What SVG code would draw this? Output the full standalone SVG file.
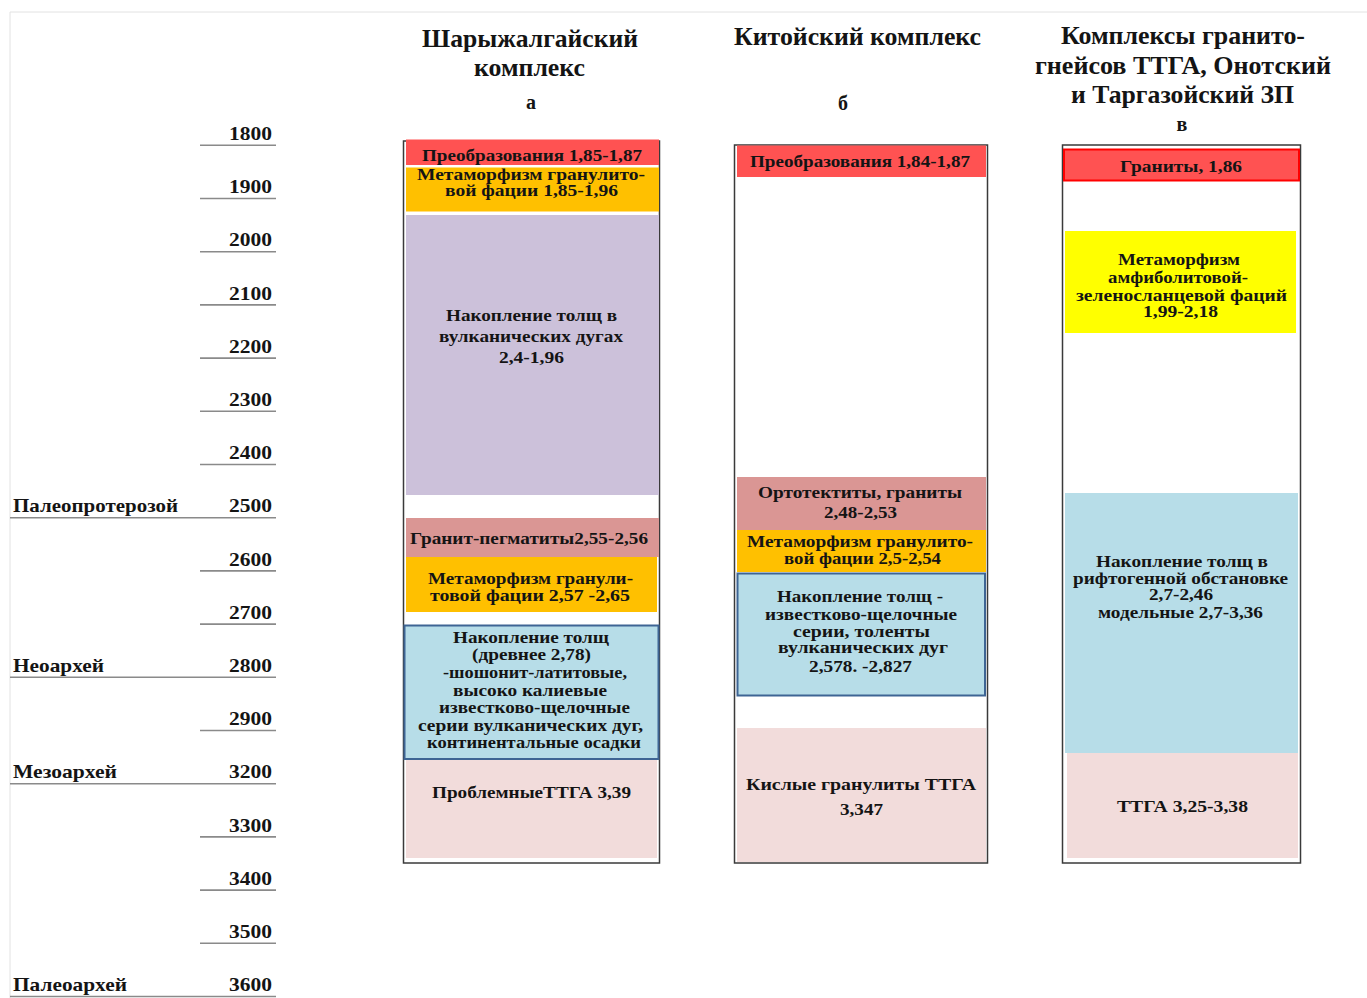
<svg xmlns="http://www.w3.org/2000/svg" width="1367" height="998" viewBox="0 0 1367 998">
<style>
text{font-family:"Liberation Serif","Times New Roman",serif;font-weight:bold;fill:#141414;}
.h{font-size:26px;text-anchor:middle;}
.b{font-size:17px;text-anchor:middle;}
.s{font-size:16px;}
.n{font-size:19px;text-anchor:end;}
.p{font-size:19px;text-anchor:start;}
.frame{fill:none;stroke:#3a3a3a;stroke-width:1.5;}
.tick{stroke:#8a8a8a;stroke-width:1.6;}
.red{fill:#FF5252;}
.org{fill:#FFC000;}
.lav{fill:#CCC1DA;}
.pk{fill:#DA9694;}
.blu{fill:#B7DDE8;}
.bb{stroke:#3E6594;stroke-width:2;}
.lp{fill:#F2DCDB;}
.yel{fill:#FFFF00;}
</style>
<rect width="1367" height="998" fill="#fff"/>
<path d="M10 998V12H1367" fill="none" stroke="#e2e2e2" stroke-width="1"/>

<g id="axis">
<line class="tick" x1="200" y1="145.3" x2="276" y2="145.3"/>
<line class="tick" x1="200" y1="198.5" x2="276" y2="198.5"/>
<line class="tick" x1="200" y1="251.7" x2="276" y2="251.7"/>
<line class="tick" x1="200" y1="304.9" x2="276" y2="304.9"/>
<line class="tick" x1="200" y1="358.1" x2="276" y2="358.1"/>
<line class="tick" x1="200" y1="411.3" x2="276" y2="411.3"/>
<line class="tick" x1="200" y1="464.5" x2="276" y2="464.5"/>
<line class="tick" x1="10" y1="517.7" x2="276" y2="517.7"/>
<line class="tick" x1="200" y1="570.9" x2="276" y2="570.9"/>
<line class="tick" x1="200" y1="624.1" x2="276" y2="624.1"/>
<line class="tick" x1="10" y1="677.3" x2="276" y2="677.3"/>
<line class="tick" x1="200" y1="730.5" x2="276" y2="730.5"/>
<line class="tick" x1="10" y1="783.7" x2="276" y2="783.7"/>
<line class="tick" x1="200" y1="836.9" x2="276" y2="836.9"/>
<line class="tick" x1="200" y1="890.1" x2="276" y2="890.1"/>
<line class="tick" x1="200" y1="943.3" x2="276" y2="943.3"/>
<line class="tick" x1="10" y1="996.5" x2="276" y2="996.5"/>
<text class="n" x="272" y="140" textLength="43" lengthAdjust="spacingAndGlyphs">1800</text>
<text class="n" x="272" y="193.2" textLength="43" lengthAdjust="spacingAndGlyphs">1900</text>
<text class="n" x="272" y="246.4" textLength="43" lengthAdjust="spacingAndGlyphs">2000</text>
<text class="n" x="272" y="299.6" textLength="43" lengthAdjust="spacingAndGlyphs">2100</text>
<text class="n" x="272" y="352.8" textLength="43" lengthAdjust="spacingAndGlyphs">2200</text>
<text class="n" x="272" y="406" textLength="43" lengthAdjust="spacingAndGlyphs">2300</text>
<text class="n" x="272" y="459.2" textLength="43" lengthAdjust="spacingAndGlyphs">2400</text>
<text class="n" x="272" y="512.4" textLength="43" lengthAdjust="spacingAndGlyphs">2500</text>
<text class="n" x="272" y="565.6" textLength="43" lengthAdjust="spacingAndGlyphs">2600</text>
<text class="n" x="272" y="618.8" textLength="43" lengthAdjust="spacingAndGlyphs">2700</text>
<text class="n" x="272" y="672" textLength="43" lengthAdjust="spacingAndGlyphs">2800</text>
<text class="n" x="272" y="725.2" textLength="43" lengthAdjust="spacingAndGlyphs">2900</text>
<text class="n" x="272" y="778.4" textLength="43" lengthAdjust="spacingAndGlyphs">3200</text>
<text class="n" x="272" y="831.6" textLength="43" lengthAdjust="spacingAndGlyphs">3300</text>
<text class="n" x="272" y="884.8" textLength="43" lengthAdjust="spacingAndGlyphs">3400</text>
<text class="n" x="272" y="938" textLength="43" lengthAdjust="spacingAndGlyphs">3500</text>
<text class="n" x="272" y="991.2" textLength="43" lengthAdjust="spacingAndGlyphs">3600</text>
<text class="p" x="13" y="512.4" textLength="165" lengthAdjust="spacingAndGlyphs">Палеопротерозой</text>
<text class="p" x="13" y="672" textLength="91" lengthAdjust="spacingAndGlyphs">Неоархей</text>
<text class="p" x="13" y="778.4" textLength="104" lengthAdjust="spacingAndGlyphs">Мезоархей</text>
<text class="p" x="13" y="991.2" textLength="114" lengthAdjust="spacingAndGlyphs">Палеоархей</text>
</g>

<g id="headers">
<text class="h" x="530" y="47" textLength="216" lengthAdjust="spacingAndGlyphs">Шарыжалгайский</text>
<text class="h" x="529.5" y="76" textLength="111" lengthAdjust="spacingAndGlyphs">комплекс</text>
<text class="h" x="531" y="109" style="font-size:20px">а</text>
<text class="h" x="857.5" y="45" textLength="247" lengthAdjust="spacingAndGlyphs">Китойский комплекс</text>
<text class="h" x="843" y="110" style="font-size:20px">б</text>
<text class="h" x="1183" y="44" textLength="244" lengthAdjust="spacingAndGlyphs">Комплексы гранито-</text>
<text class="h" x="1183" y="74" textLength="296" lengthAdjust="spacingAndGlyphs">гнейсов ТТГА, Онотский</text>
<text class="h" x="1182.5" y="103" textLength="223" lengthAdjust="spacingAndGlyphs">и Таргазойский ЗП</text>
<text class="h" x="1182" y="131" style="font-size:20px">в</text>
</g>

<g id="col-a">
<rect class="frame" x="403.5" y="141" width="256" height="722"/>
<g id="a1"><rect class="red" x="406" y="139.5" width="253" height="25.5"/>
<text class="b" x="532" y="160.5" textLength="220" lengthAdjust="spacingAndGlyphs">Преобразования 1,85-1,87</text></g>
<g id="a2"><rect class="org" x="406" y="167.5" width="253" height="44"/>
<text class="b s" x="531" y="180" textLength="228" lengthAdjust="spacingAndGlyphs">Метаморфизм  гранулито-</text>
<text class="b s" x="531.5" y="196" textLength="173" lengthAdjust="spacingAndGlyphs">вой фации  1,85-1,96</text></g>
<g id="a3"><rect class="lav" x="406" y="215" width="253" height="280"/>
<text class="b" x="531.5" y="321" textLength="171" lengthAdjust="spacingAndGlyphs">Накопление толщ в</text>
<text class="b" x="531" y="342" textLength="184" lengthAdjust="spacingAndGlyphs">вулканических  дугах</text>
<text class="b" x="531.5" y="363" textLength="65" lengthAdjust="spacingAndGlyphs">2,4-1,96</text></g>
<g id="a4"><rect class="pk" x="406" y="518" width="253" height="39"/>
<text class="b" x="529" y="544" textLength="238" lengthAdjust="spacingAndGlyphs">Гранит-пегматиты2,55-2,56</text></g>
<g id="a5"><rect class="org" x="406" y="557" width="251" height="55"/>
<text class="b s" x="530.5" y="584" textLength="205" lengthAdjust="spacingAndGlyphs">Метаморфизм гранули-</text>
<text class="b s" x="530" y="600.5" textLength="200" lengthAdjust="spacingAndGlyphs">товой фации  2,57 -2,65</text></g>
<g id="a6"><rect class="blu bb" x="404.5" y="625.5" width="254" height="133.5"/>
<text class="b s" x="531" y="643" textLength="156" lengthAdjust="spacingAndGlyphs">Накопление толщ</text>
<text class="b s" x="531.5" y="660" textLength="119" lengthAdjust="spacingAndGlyphs">(древнее 2,78)</text>
<text class="b s" x="535" y="678" textLength="184" lengthAdjust="spacingAndGlyphs">-шошонит-латитовые,</text>
<text class="b s" x="530" y="695.5" textLength="154" lengthAdjust="spacingAndGlyphs">высоко калиевые</text>
<text class="b s" x="534.5" y="713" textLength="191" lengthAdjust="spacingAndGlyphs">известково-щелочные</text>
<text class="b s" x="530.5" y="730.5" textLength="225" lengthAdjust="spacingAndGlyphs">серии вулканических  дуг,</text>
<text class="b s" x="534" y="748" textLength="214" lengthAdjust="spacingAndGlyphs">континентальные  осадки</text></g>
<g id="a7"><rect class="lp" x="406" y="760" width="251" height="98"/>
<text class="b" x="531.5" y="798" textLength="199" lengthAdjust="spacingAndGlyphs">ПроблемныеТТГА 3,39</text></g>
</g>

<g id="col-b">
<rect class="frame" x="734.5" y="145" width="253" height="718"/>
<g id="b1"><rect class="red" x="737" y="145.5" width="249" height="31.5"/>
<text class="b" x="860" y="166.5" textLength="220" lengthAdjust="spacingAndGlyphs">Преобразования 1,84-1,87</text></g>
<g id="b2"><rect class="pk" x="737" y="477" width="249" height="53"/>
<text class="b" x="860" y="498" textLength="204" lengthAdjust="spacingAndGlyphs">Ортотектиты, граниты</text>
<text class="b" x="860.5" y="518" textLength="73" lengthAdjust="spacingAndGlyphs">2,48-2,53</text></g>
<g id="b3"><rect class="org" x="737" y="530" width="249" height="42"/>
<text class="b s" x="860" y="546.5" textLength="226" lengthAdjust="spacingAndGlyphs">Метаморфизм гранулито-</text>
<text class="b s" x="862.5" y="564" textLength="157" lengthAdjust="spacingAndGlyphs">вой фации 2,5-2,54</text></g>
<g id="b4"><rect class="blu bb" x="737.5" y="573.5" width="247.5" height="122"/>
<text class="b s" x="860" y="601.5" textLength="166" lengthAdjust="spacingAndGlyphs">Накопление толщ -</text>
<text class="b s" x="861" y="620" textLength="192" lengthAdjust="spacingAndGlyphs">известково-щелочные</text>
<text class="b s" x="861.5" y="636.5" textLength="137" lengthAdjust="spacingAndGlyphs">серии, толенты</text>
<text class="b s" x="863" y="653" textLength="170" lengthAdjust="spacingAndGlyphs">вулканических  дуг</text>
<text class="b s" x="860.5" y="671.5" textLength="103" lengthAdjust="spacingAndGlyphs">2,578. -2,827</text></g>
<g id="b5"><rect class="lp" x="737" y="728" width="249" height="134"/>
<text class="b" x="861" y="790" textLength="230" lengthAdjust="spacingAndGlyphs">Кислые гранулиты  ТТГА</text>
<text class="b" x="861.5" y="815" textLength="43" lengthAdjust="spacingAndGlyphs">3,347</text></g>
</g>

<g id="col-c">
<rect class="frame" x="1062.5" y="145" width="238" height="718"/>
<g id="c1"><rect class="red" x="1064" y="149.5" width="235" height="31" stroke="#FF0000" stroke-width="2"/>
<text class="b" x="1181" y="171.5" textLength="122" lengthAdjust="spacingAndGlyphs">Граниты, 1,86</text></g>
<g id="c2"><rect class="yel" x="1065" y="231" width="231" height="102"/>
<text class="b s" x="1179" y="265" textLength="122" lengthAdjust="spacingAndGlyphs">Метаморфизм</text>
<text class="b s" x="1178" y="282.5" textLength="140" lengthAdjust="spacingAndGlyphs">амфиболитовой-</text>
<text class="b s" x="1181.5" y="300.5" textLength="211" lengthAdjust="spacingAndGlyphs">зеленосланцевой  фаций</text>
<text class="b s" x="1180.5" y="316.5" textLength="75" lengthAdjust="spacingAndGlyphs">1,99-2,18</text></g>
<g id="c3"><rect class="blu" x="1065" y="493" width="233" height="260"/>
<text class="b s" x="1182" y="567" textLength="172" lengthAdjust="spacingAndGlyphs">Накопление толщ в</text>
<text class="b s" x="1180.5" y="584" textLength="215" lengthAdjust="spacingAndGlyphs">рифтогенной обстановке</text>
<text class="b s" x="1181" y="600" textLength="64" lengthAdjust="spacingAndGlyphs">2,7-2,46</text>
<text class="b s" x="1180.5" y="618" textLength="165" lengthAdjust="spacingAndGlyphs">модельные 2,7-3,36</text></g>
<g id="c4"><rect class="lp" x="1067" y="753" width="231" height="105"/>
<text class="b" x="1182.5" y="811.5" textLength="131" lengthAdjust="spacingAndGlyphs">ТТГА 3,25-3,38</text></g>
</g>

<g id="connectors"></g>
</svg>
